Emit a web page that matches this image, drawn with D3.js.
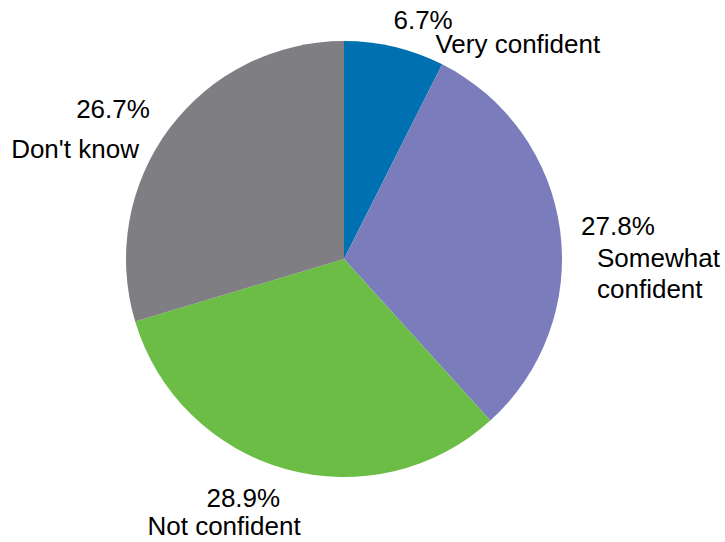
<!DOCTYPE html>
<html>
  <head>
    <meta charset="utf-8">
    <title>Confidence pie</title>
    <script src="https://d3js.org/d3.v7.min.js"></script>
    <style>
    body { margin: 0; background: #fff; }
    .label {
      font-family: "Liberation Sans", Arial, sans-serif;
      font-size: 26px;
      fill: #000;
    }
    </style>
  </head>
  <body>
<script>
// data
var categories = ['Very confident', 'Somewhat confident', 'Not confident', "Don't know"];
var values = [6.7, 27.8, 28.9, 26.7];
var valueLabels = ['6.7%', '27.8%', '28.9%', '26.7%'];
var nameLines = [['Very confident'], ['Somewhat', 'confident'], ['Not confident'], ["Don't know"]];
var colors = ['#0071b0', '#7b7cbc', '#6bbd46', '#7f7e83'];

// label offsets from the outer edge of each slice (value line, then name lines)
var labelOffsets = [
  [[-1, -18], [41, 6]],
  [[21, 5], [37, 37], [37, 68]],
  [[-79, 38], [-138, 66]],
  [[-93, -11], [-158, 29]]
];

var width = 725, height = 542;
var cx = 344, cy = 259, radius = 218;

var svg = d3.select('body')
  .append('svg')
    .attr('width', width)
    .attr('height', height);

var g = svg.append('g')
  .attr('transform', 'translate(' + cx + ',' + cy + ')');

var pie = d3.pie()
  .sort(null)
  .value(function(d) { return d; });

var arcs = pie(values);

var arc = d3.arc()
  .innerRadius(0)
  .outerRadius(radius);

var edge = d3.arc()
  .innerRadius(radius)
  .outerRadius(radius);

g.selectAll('path.slice')
  .data(arcs)
  .enter().append('path')
    .attr('class', 'slice')
    .attr('d', arc)
    .attr('fill', function(d, i) { return colors[i]; });

// labels
arcs.forEach(function(d, i) {
  var p = edge.centroid(d);
  var lines = [valueLabels[i]].concat(nameLines[i]);
  lines.forEach(function(txt, j) {
    var off = labelOffsets[i][j];
    g.append('text')
      .attr('class', 'label')
      .attr('x', p[0] + off[0])
      .attr('y', p[1] + off[1])
      .text(txt);
  });
});
</script>
  </body>
</html>
